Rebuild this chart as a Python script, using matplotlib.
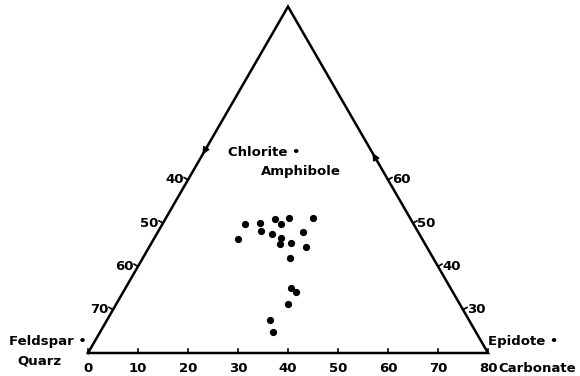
import numpy as np
import matplotlib.pyplot as plt

# base scale reading (0-80) and left-side level reading for each sample
base_vals = [31.4, 34.4, 37.3, 38.6, 40.1, 44.9, 29.9, 34.5, 36.7, 38.6,
             38.4, 40.5, 42.9, 43.6, 40.3, 40.5, 41.5, 39.9, 36.4, 36.9]
left_vals = [50.2, 50.0, 49.1, 50.1, 48.9, 48.8, 53.7, 51.8, 52.6, 53.4,
             54.9, 54.6, 52.1, 55.6, 58.0, 64.9, 66.0, 68.7, 72.4, 75.1]

bottom_ticks = [0, 10, 20, 30, 40, 50, 60, 70, 80]
left_ticks = [40, 50, 60, 70]
right_ticks = [30, 40, 50, 60]

side = 80.0
H = side * np.sqrt(3) / 2


def left_pt(v):
    t = (80 - v) / 80.0
    return t * side / 2, t * H


def right_pt(w):
    t = (w - 20) / 80.0
    return side - t * side / 2, t * H


fig = plt.figure(figsize=(5.8, 3.76), dpi=100)
ax = fig.add_axes([0, 0, 1, 1])
ax.set_xlim(-17.6, 98.4)
ax.set_ylim(-4.6, 70.6)
ax.axis('off')

font = dict(family='DejaVu Sans', fontsize=9.5, fontweight='bold', color='black')

# triangle
ax.plot([0, side, side / 2, 0], [0, 0, H, 0], color='black', lw=1.8,
        solid_joinstyle='miter')

# bottom ticks
for b in bottom_ticks:
    ax.plot([b, b], [0, 0.9], color='black', lw=1.2)
    ax.text(b, -1.7, str(b), ha='center', va='top', **font)

# left side ticks (outward)
nl = np.array([-np.sqrt(3) / 2, 0.5])
for v in left_ticks:
    x, y = left_pt(v)
    ax.plot([x, x + nl[0] * 0.9], [y, y + nl[1] * 0.9], color='black', lw=1.2)
    ax.text(x - 0.9, y, str(v), ha='right', va='center', **font)

# right side ticks (outward)
nr = np.array([np.sqrt(3) / 2, 0.5])
for w in right_ticks:
    x, y = right_pt(w)
    ax.plot([x, x + nr[0] * 0.9], [y, y + nr[1] * 0.9], color='black', lw=1.2)
    ax.text(x + 0.8, y, str(w), ha='left', va='center', **font)

# direction arrows on the sides
ax.annotate('', xy=(22.9, 39.7), xytext=(24.4, 42.3),
            arrowprops=dict(arrowstyle='-|>', color='black', lw=1.2,
                            mutation_scale=10, shrinkA=0, shrinkB=0))
ax.annotate('', xy=(56.9, 40.0), xytext=(58.4, 37.4),
            arrowprops=dict(arrowstyle='-|>', color='black', lw=1.2,
                            mutation_scale=10, shrinkA=0, shrinkB=0))

# samples
xs = np.array(base_vals)
hs = (80 - np.array(left_vals)) / 80.0 * H
ax.plot(xs, hs, 'o', color='black', markersize=4.2)

# corner labels
ax.text(-0.2, 2.2, 'Feldspar \u2022', ha='right', va='center', **font)
ax.text(-5.2, -1.6, 'Quarz', ha='right', va='center', **font)
ax.text(79.9, 2.2, 'Epidote \u2022', ha='left', va='center', **font)
ax.text(82.0, -3.0, 'Carbonate', ha='left', va='center', **font)
ax.text(28.0, 40.0, 'Chlorite \u2022', ha='left', va='center', **font)
ax.text(34.6, 36.2, 'Amphibole', ha='left', va='center', **font)

fig.savefig('out.png', dpi=100)
